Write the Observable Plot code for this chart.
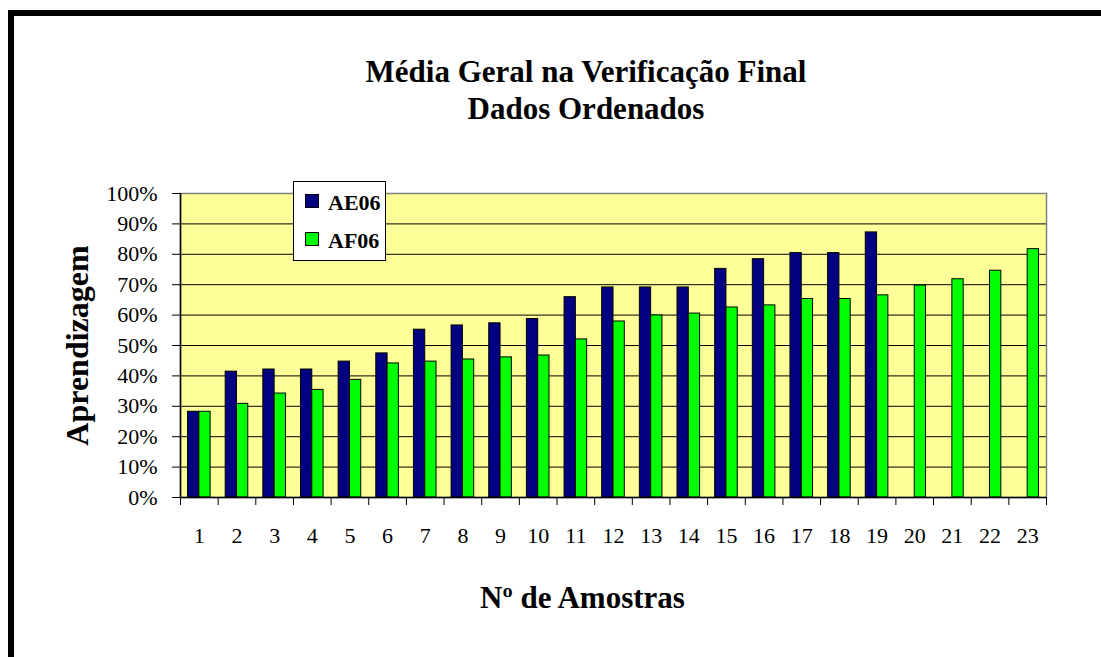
<!DOCTYPE html>
<html><head><meta charset="utf-8">
<script src="https://cdn.jsdelivr.net/npm/d3@7"></script>
<script src="https://cdn.jsdelivr.net/npm/@observablehq/plot@0.6"></script>
<style>
html,body{margin:0;padding:0;background:#fff;overflow:hidden}
#wrap{position:relative;width:1101px;height:657px;font-family:"Liberation Serif","Times New Roman",serif;color:#000}
#border{position:absolute;left:8px;top:10px;width:1200px;height:800px;border-top:6px solid #000;border-left:6px solid #000;box-sizing:border-box}
#chart{position:absolute;left:0;top:0}
.title{position:absolute;left:0;width:1172px;text-align:center;font-weight:bold;font-size:31px;line-height:31px;white-space:nowrap}
#legend{position:absolute;left:293px;top:181px;width:93px;height:80px;border:1px solid #000;background:#fff;box-sizing:border-box}
.sw{position:absolute;width:14px;height:14px;border:1px solid #000;box-sizing:border-box}
.lt{position:absolute;font-weight:bold;font-size:22px;line-height:22px;white-space:nowrap}
</style>
</head><body>
<div id="wrap">
  <div id="border"></div>
  <div id="chart"></div>
  <div class="title" style="top:56px">Média Geral na Verificação Final</div>
  <div class="title" style="top:93px">Dados Ordenados</div>
  <div id="legend"></div>
</div>
<script>
// ---- data ----
const samples = ["1","2","3","4","5","6","7","8","9","10","11","12","13","14","15","16","17","18","19","20","21","22","23"];
const seriesNames = ["AE06", "AF06"];
const seriesColors = ["#000080", "#00FF00"];
const ae06 = [0.282, 0.414, 0.421, 0.421, 0.447, 0.474, 0.552, 0.566, 0.573, 0.587, 0.659, 0.691, 0.691, 0.691, 0.752, 0.784, 0.804, 0.804, 0.872];
const af06 = [0.282, 0.308, 0.342, 0.354, 0.387, 0.441, 0.447, 0.454, 0.461, 0.467, 0.520, 0.579, 0.599, 0.605, 0.625, 0.632, 0.653, 0.653, 0.665, 0.697, 0.718, 0.746, 0.817];
const yTicks = [0, 0.1, 0.2, 0.3, 0.4, 0.5, 0.6, 0.7, 0.8, 0.9, 1.0];

// ---- layout ----
const W = 1101, H = 657, ML = 180, MR = 55, MT = 193, MB = 160;
const padInner = 0.4, padOuter = 0.2;
const step = (W - ML - MR) / samples.length;
const half = step * (1 - padInner) / 2;

const aeRows = ae06.map((v, i) => ({s: samples[i], v}));
const afRows = af06.map((v, i) => ({s: samples[i], v}));

const chart = Plot.plot({
  width: W, height: H,
  marginTop: MT, marginBottom: MB, marginLeft: ML, marginRight: MR,
  style: {fontFamily: '"Liberation Serif","Times New Roman",serif', fontSize: "22px", color: "black", background: "transparent", overflow: "visible"},
  x: {type: "band", domain: samples, paddingInner: padInner, paddingOuter: padOuter, round: false, axis: null},
  y: {domain: [0, 1], axis: null},
  marks: [
    Plot.frame({fill: "#FFFF99"}),
    Plot.ruleY(yTicks.filter(v => v > 0 && v < 1), {stroke: "black", strokeWidth: 1}),
    Plot.frame({stroke: "#808080", strokeWidth: 1.5}),
    Plot.barY(aeRows, {x: "s", y: "v", fill: seriesColors[0], stroke: "black", strokeWidth: 1, insetRight: half}),
    Plot.barY(afRows, {x: "s", y: "v", fill: seriesColors[1], stroke: "black", strokeWidth: 1, insetLeft: half}),
    Plot.ruleX([samples[0]], {dx: -step / 2, stroke: "black", strokeWidth: 1.5}),
    Plot.ruleY([0], {stroke: "black", strokeWidth: 1.5}),
    Plot.axisY({ticks: yTicks, tickSize: 8, tickPadding: 15, tickFormat: d3.format(".0%"), fontSize: 22, label: null}),
    Plot.axisX({ticks: samples, tickSize: 8, text: null, dx: -step / 2, label: null}),
    Plot.axisX({ticks: [samples[samples.length - 1]], tickSize: 8, text: null, dx: step / 2, label: null}),
    Plot.axisX({ticks: samples, tickSize: 0, tickPadding: 30, fontSize: 22, label: null}),
    Plot.text(["Aprendizagem"], {text: d => d, frameAnchor: "left", rotate: -90, dx: -93, textAnchor: "middle", lineAnchor: "bottom", fontSize: 32, fontWeight: "bold"}),
    Plot.text(["Nº de Amostras"], {text: d => d, frameAnchor: "bottom", dx: -31, dy: 110, textAnchor: "middle", lineAnchor: "bottom", fontSize: 31, fontWeight: "bold"})
  ]
});
document.getElementById("chart").appendChild(chart);

// ---- legend ----
const legend = document.getElementById("legend");
seriesNames.forEach((name, i) => {
  const sw = document.createElement("div");
  sw.className = "sw";
  sw.style.left = "11px";
  sw.style.top = (12 + i * 38) + "px";
  sw.style.background = seriesColors[i];
  legend.appendChild(sw);
  const t = document.createElement("div");
  t.className = "lt";
  t.style.left = "34px";
  t.style.top = (10 + i * 38) + "px";
  t.textContent = name;
  legend.appendChild(t);
});
</script>
</body></html>
